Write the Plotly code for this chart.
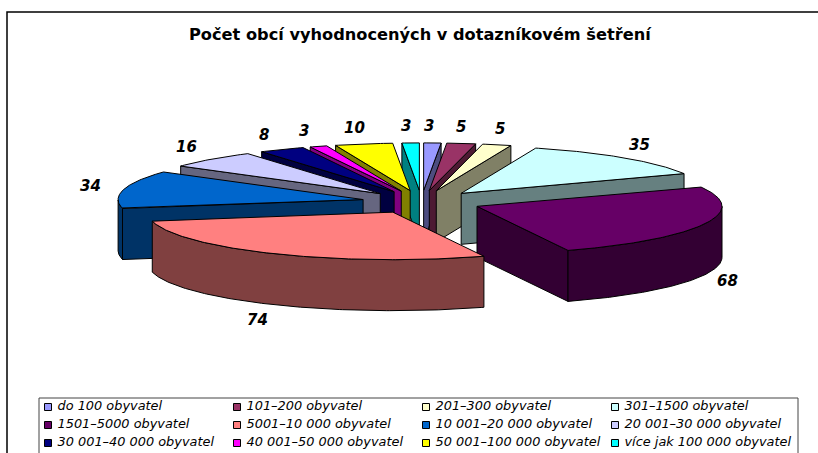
import numpy as np
import plotly.graph_objects as go

categories = ["do 100 obyvatel", "101–200 obyvatel", "201–300 obyvatel", "301–1500 obyvatel",
              "1501–5000 obyvatel", "5001–10 000 obyvatel", "10 001–20 000 obyvatel", "20 001–30 000 obyvatel",
              "30 001–40 000 obyvatel", "40 001–50 000 obyvatel", "50 001–100 000 obyvatel", "více jak 100 000 obyvatel"]
values = [3, 5, 5, 35, 68, 74, 34, 16, 8, 3, 10, 3]
top_colors = ["#9999FF", "#993366", "#FFFFCC", "#CCFFFF", "#660066", "#FF8080",
              "#0066CC", "#CCCCFF", "#000080", "#FF00FF", "#FFFF00", "#00FFFF"]
side_colors = ["#4D4D80", "#4D1A33", "#808066", "#668080", "#330033", "#804040",
               "#003366", "#666680", "#000040", "#800080", "#808000", "#008080"]
title = "Počet obcí vyhodnocených v dotazníkovém šetření"

# fake 3D pie: everything is projected on a pixel sized plot
CX, CY = 421.5, 202
RX, RY = 245, 47.5
EXPLODE = 0.244
DEPTH = 51
LABEL_GAP = 0.12


def project(theta, r=1.0):
    return CX + r * RX * np.sin(theta), CY - r * RY * np.cos(theta)


def poly(fig, xs, ys, color):
    fig.add_trace(go.Scatter(x=list(xs) + [xs[0]], y=list(ys) + [ys[0]], mode="lines", fill="toself",
                             fillcolor=color, line=dict(color="black", width=1), hoverinfo="skip",
                             showlegend=False))


fig = go.Figure()

edges = np.cumsum([0] + values) / sum(values) * 2 * np.pi
slices = []
for i, v in enumerate(values):
    mid = (edges[i] + edges[i + 1]) / 2
    tip_x, tip_y = project(mid, EXPLODE)
    slices.append((tip_y, i, tip_x, mid))

# back slices first
for tip_y, i, tip_x, mid in sorted(slices):
    a0, a1 = edges[i], edges[i + 1]
    theta = np.linspace(a0, a1, max(values[i] * 2, 8))
    arc_x = tip_x + RX * np.sin(theta)
    arc_y = tip_y - RY * np.cos(theta)

    # radial walls only where they face the viewer
    if a0 > np.pi:
        poly(fig, [tip_x, arc_x[0], arc_x[0], tip_x],
             [tip_y, arc_y[0], arc_y[0] + DEPTH, tip_y + DEPTH], side_colors[i])
    if a1 < np.pi:
        poly(fig, [tip_x, arc_x[-1], arc_x[-1], tip_x],
             [tip_y, arc_y[-1], arc_y[-1] + DEPTH, tip_y + DEPTH], side_colors[i])
    front = np.cos(theta) < 0
    if front.any():
        fx, fy = arc_x[front], arc_y[front]
        poly(fig, list(fx) + list(fx[::-1]), list(fy) + list(fy[::-1] + DEPTH), side_colors[i])
    poly(fig, [tip_x] + list(arc_x), [tip_y] + list(arc_y), top_colors[i])

# data labels
for _, i, _, mid in slices:
    lx, ly = project(mid, 1 + EXPLODE + LABEL_GAP)
    ly += -11 * np.cos(mid) + (DEPTH if np.cos(mid) < 0 else 0)
    fig.add_annotation(x=lx - 4, y=ly, text=str(values[i]), showarrow=False,
                       font=dict(family="DejaVu Sans", size=15, color="black", weight="bold", style="italic"))

# legend box, four columns by three rows
fig.add_shape(type="rect", x0=39, x1=798, y0=398, y1=470, line=dict(color="#444444", width=1), layer="below")
for i, name in enumerate(categories):
    fig.add_trace(go.Scatter(x=[48 + 189 * (i % 4)], y=[407 + 18 * (i // 4)], mode="markers+text",
                             marker=dict(symbol="square", size=7, color=top_colors[i],
                                         line=dict(color="black", width=1)),
                             text=[" " + name], textposition="middle right", hoverinfo="skip", showlegend=False,
                             textfont=dict(family="DejaVu Sans", size=12.9, color="black", style="italic")))

# outer chart frame, cut by the image edge
fig.add_shape(type="rect", x0=7, x1=900, y0=12, y1=900, line=dict(color="black", width=1.5), layer="below")

fig.add_annotation(x=420.5, y=34, text=title, showarrow=False,
                   font=dict(family="DejaVu Sans", size=16.2, color="black", weight="bold"))

fig.update_layout(width=818, height=453, margin=dict(l=0, r=0, t=0, b=0), plot_bgcolor="white", paper_bgcolor="white",
                  xaxis=dict(range=[0, 818], visible=False, fixedrange=True),
                  yaxis=dict(range=[453, 0], visible=False, fixedrange=True))

fig.write_html("out.html", config={"displayModeBar": False},
               post_script="document.body.style.margin='0';document.body.style.overflow='hidden';")
